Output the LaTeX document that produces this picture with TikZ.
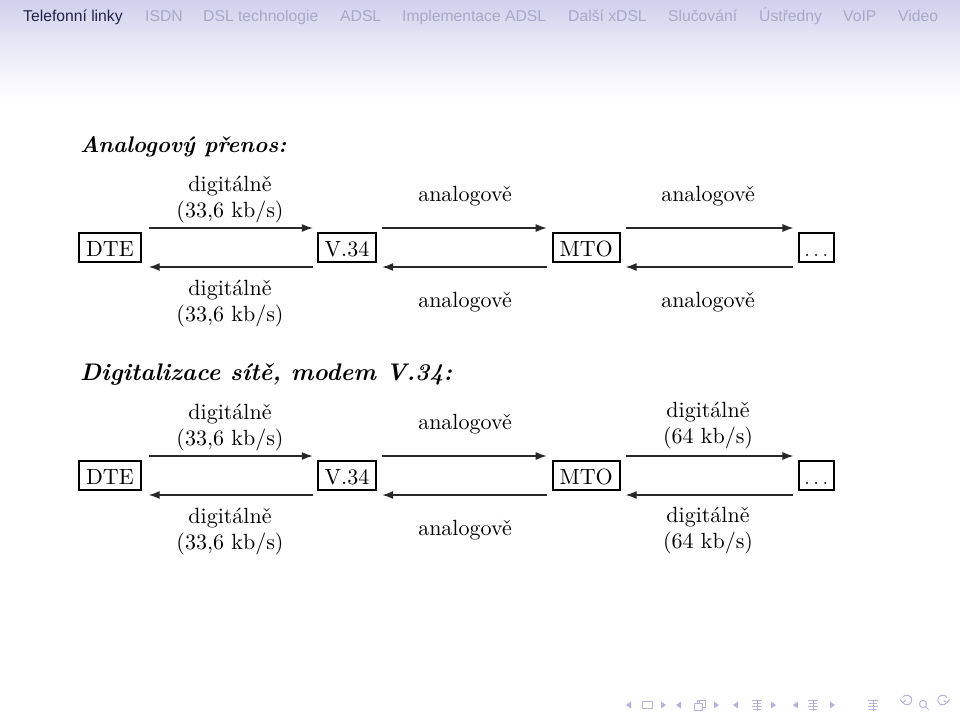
\documentclass[tikz,border=0pt]{standalone}
\usepackage{fontspec}
\setmainfont{lmroman10-regular.otf}[BoldFont=lmroman10-bold.otf, ItalicFont=lmroman10-italic.otf, BoldItalicFont=lmroman10-bolditalic.otf]
\newfontfamily\navfont{Liberation Sans}
\usetikzlibrary{arrows.meta}
\definecolor{navact}{RGB}{34,34,72}
\definecolor{navin}{RGB}{168,168,200}
\definecolor{hdrtop}{RGB}{208,208,236}
\definecolor{hdrmid}{RGB}{232,232,246}
\definecolor{symcol}{RGB}{180,180,218}
\definecolor{arrcol}{RGB}{40,40,40}
\newcommand\mainfs{\fontsize{22}{26}\selectfont}
\begin{document}
\begin{tikzpicture}[x=1pt,y=-1pt,
  box/.style={draw, line width=1.8pt, inner xsep=7pt, inner ysep=3pt, text height=20pt, text depth=3pt, font=\mainfs},
  arr/.style={draw=arrcol, line width=1.3pt, -{Latex[length=11pt,width=8pt]}},
  lbl/.style={anchor=base, inner sep=0pt, font=\mainfs},
  head/.style={anchor=base west, inner sep=0pt, font=\bfseries\itshape},
  nav/.style={anchor=base west, inner sep=0pt, font=\navfont\fontsize{15.7}{18}\selectfont, text=navin},
  sym/.style={draw=symcol, line width=1pt},
  symf/.style={fill=symcol}
]
\useasboundingbox (0,0) rectangle (960,720);
\fill[white] (0,0) rectangle (960,720);
\shade[top color=hdrtop, bottom color=hdrmid] (0,0) rectangle (960,45);
\shade[top color=hdrmid, bottom color=white] (0,45) rectangle (960,100);

% navigation bar
\node[nav, text=navact] (n1) at (23,21) {Telefonní linky};
\node[nav] (n2) at (145,21) {ISDN};
\node[nav] (n3) at (203,21) {DSL technologie};
\node[nav] (n4) at (340,21) {ADSL};
\node[nav] (n5) at (402,21) {Implementace ADSL};
\node[nav] (n6) at (568,21) {Další xDSL};
\node[nav] (n7) at (668,21) {Slučování};
\node[nav] (n8) at (759,21) {Ústředny};
\node[nav] (n9) at (843,21) {VoIP};
\node[nav] (n10) at (898,21) {Video};

% headings
\node[head, font=\fontsize{22.5}{26}\selectfont\bfseries\itshape] (h1) at (80,152) {Analogový přenos:};
\node[head, font=\fontsize{24}{28}\selectfont\bfseries\itshape] (h2) at (80,380.5) {Digitalizace sítě, modem V.34:};

% ---------- row 1 ----------
\node[box] (dteA) at (110,247.5) {DTE};
\node[box] (vA) at (347,247.5) {V.34};
\node[box] (mA) at (586.2,247.5) {MTO};
\node[box, inner xsep=5.5pt] (xA) at (816.3,247.5) {$\ldots$};

\draw[arr] ([shift={(7,-19.5)}]dteA.east) -- ([shift={(-4,-19.5)}]vA.west);
\draw[arr] ([shift={(-4,19.5)}]vA.west) -- ([shift={(7,19.5)}]dteA.east);
\draw[arr] ([shift={(5,-19.5)}]vA.east) -- ([shift={(-5,-19.5)}]mA.west);
\draw[arr] ([shift={(-5,19.5)}]mA.west) -- ([shift={(5,19.5)}]vA.east);
\draw[arr] ([shift={(5,-19.5)}]mA.east) -- ([shift={(-4.5,-19.5)}]xA.west);
\draw[arr] ([shift={(-4.5,19.5)}]xA.west) -- ([shift={(5,19.5)}]mA.east);

\node[lbl] (a1) at (230,191) {digitálně};
\node[lbl] (a2) at (230,217) {(33,6 kb/s)};
\node[lbl] (a3) at (230,295.5) {digitálně};
\node[lbl] (a4) at (230,321) {(33,6 kb/s)};
\node[lbl] (a5) at (465,201.5) {analogově};
\node[lbl] (a6) at (465,307.5) {analogově};
\node[lbl] (a7) at (708,201.5) {analogově};
\node[lbl] (a8) at (708,307.5) {analogově};

% ---------- row 2 ----------
\node[box] (dteB) at (110,475.5) {DTE};
\node[box] (vB) at (347,475.5) {V.34};
\node[box] (mB) at (586.2,475.5) {MTO};
\node[box, inner xsep=5.5pt] (xB) at (816.3,475.5) {$\ldots$};

\draw[arr] ([shift={(7,-19.5)}]dteB.east) -- ([shift={(-4,-19.5)}]vB.west);
\draw[arr] ([shift={(-4,19.5)}]vB.west) -- ([shift={(7,19.5)}]dteB.east);
\draw[arr] ([shift={(5,-19.5)}]vB.east) -- ([shift={(-5,-19.5)}]mB.west);
\draw[arr] ([shift={(-5,19.5)}]mB.west) -- ([shift={(5,19.5)}]vB.east);
\draw[arr] ([shift={(5,-19.5)}]mB.east) -- ([shift={(-4.5,-19.5)}]xB.west);
\draw[arr] ([shift={(-4.5,19.5)}]xB.west) -- ([shift={(5,19.5)}]mB.east);

\node[lbl] (b1) at (230,419) {digitálně};
\node[lbl] (b2) at (230,445) {(33,6 kb/s)};
\node[lbl] (b3) at (230,523.5) {digitálně};
\node[lbl] (b4) at (230,549) {(33,6 kb/s)};
\node[lbl] (b5) at (465,429.5) {analogově};
\node[lbl] (b6) at (465,535.5) {analogově};
\node[lbl] (b7) at (708,417) {digitálně};
\node[lbl] (b8) at (708,443.5) {(64 kb/s)};
\node[lbl] (b9) at (708,522) {digitálně};
\node[lbl] (b10) at (708,548.5) {(64 kb/s)};

% ---------- beamer navigation symbols ----------
\fill[symf] (631,701.5) -- (626,705) -- (631,708.5) -- cycle;
\draw[sym] (642.5,701) rectangle (652,708.5);
\fill[symf] (661,701.5) -- (666,705) -- (661,708.5) -- cycle;
\fill[symf] (681,701.5) -- (676,705) -- (681,708.5) -- cycle;
\draw[sym] (694,703.5) rectangle (702,710);
\draw[sym] (697,703.5) -- (697,700.5) -- (705,700.5) -- (705,707) -- (702,707);
\draw[sym] (699.5,700.5) -- (699.5,703.5);
\fill[symf] (714,701.5) -- (719,705) -- (714,708.5) -- cycle;
\fill[symf] (738,701.5) -- (733,705) -- (738,708.5) -- cycle;
\draw[sym] (752,700.5) -- (762,700.5) (753,703.5) -- (761,703.5) (752,706.5) -- (762,706.5) (753,709.5) -- (761,709.5) (757,699.5) -- (757,711);
\fill[symf] (771,701.5) -- (776,705) -- (771,708.5) -- cycle;
\fill[symf] (798,701.5) -- (793,705) -- (798,708.5) -- cycle;
\draw[sym] (808,700.5) -- (818,700.5) (809,703.5) -- (817,703.5) (808,706.5) -- (818,706.5) (809,709.5) -- (817,709.5) (813,699.5) -- (813,711);
\fill[symf] (830,701.5) -- (835,705) -- (830,708.5) -- cycle;
\draw[sym] (868,700.5) -- (878,700.5) (869,703.5) -- (877,703.5) (868,706.5) -- (878,706.5) (869,709.5) -- (877,709.5) (873,699.5) -- (873,711);
\draw[sym] (902.5,702.5) arc[start angle=150, end angle=-150, radius=5];
\draw[sym] (900,699.5) -- (902.5,702.5) -- (906,700.5);
\draw[sym] (923,704) circle[radius=3.6];
\draw[sym] (925.6,706.6) -- (928.5,709.5);
\draw[sym] (947,702.5) arc[start angle=30, end angle=330, radius=5];
\draw[sym] (949.5,699.5) -- (947,702.5) -- (943.5,700.5);
\end{tikzpicture}
\end{document}
